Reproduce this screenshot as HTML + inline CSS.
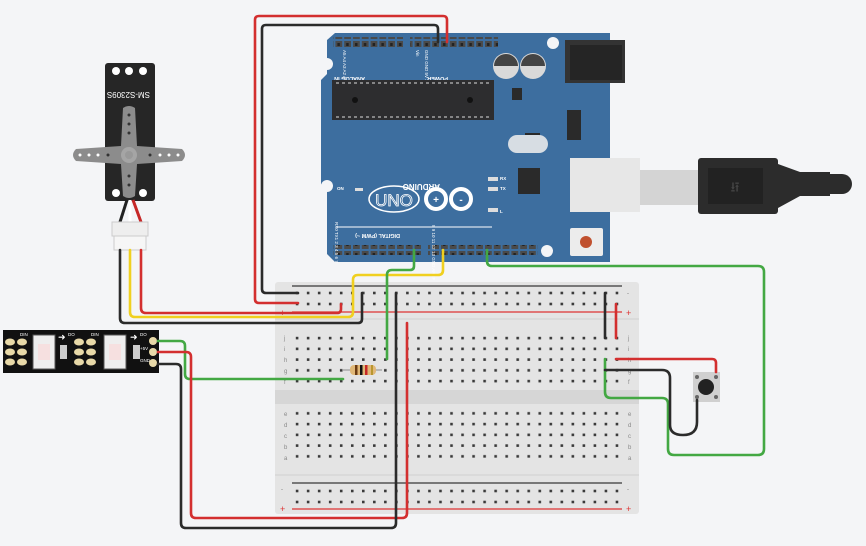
<!DOCTYPE html>
<html><head><meta charset="utf-8"><style>
html,body{margin:0;padding:0;background:#f4f5f7;}
svg{display:block;font-family:"Liberation Sans",sans-serif;}
</style></head><body>
<svg width="866" height="546" viewBox="0 0 866 546" xmlns="http://www.w3.org/2000/svg">
<defs>
<pattern id="holes" x="291.5" y="332.6" width="11.03" height="10.75" patternUnits="userSpaceOnUse"><rect x="4.3" y="4.2" width="2.6" height="2.6" fill="#3a3a3a"/></pattern>
<pattern id="rail" x="291.5" y="287.5" width="11.03" height="11" patternUnits="userSpaceOnUse"><rect x="4.3" y="4.2" width="2.6" height="2.6" fill="#3a3a3a"/></pattern>
<pattern id="hdr" x="0" y="0" width="8.8" height="10" patternUnits="userSpaceOnUse"><rect x="1" y="1" width="6.8" height="8" fill="#4a4a4a"/><rect x="3" y="3" width="2.5" height="3" fill="#222"/></pattern>
</defs>
<rect width="866" height="546" fill="#f4f5f7"/>

<!-- Breadboard -->
<rect x="275" y="282" width="364" height="232" rx="3" fill="#e4e4e4"/>
<rect x="275" y="390" width="364" height="14" fill="#d6d6d6"/>
<rect x="275" y="318" width="364" height="2" fill="#dadada"/>
<rect x="275" y="474" width="364" height="2" fill="#dadada"/>
<line x1="292" y1="286" x2="622" y2="286" stroke="#555" stroke-width="1.5"/>
<line x1="292" y1="312" x2="622" y2="312" stroke="#d33" stroke-width="1.2"/>
<line x1="292" y1="483" x2="622" y2="483" stroke="#555" stroke-width="1.5"/>
<line x1="292" y1="509" x2="622" y2="509" stroke="#d33" stroke-width="1.2"/>
<rect x="292" y="287.5" width="331" height="22" fill="url(#rail)"/>
<rect x="292" y="484.5" width="331" height="22" fill="url(#rail)"/>
<rect x="292" y="332.6" width="331" height="53.7" fill="url(#holes)"/>
<rect x="292" y="408.6" width="331" height="53.7" fill="url(#holes)"/>
<g font-size="6" fill="#777">
<text x="281" y="295">-</text><text x="627" y="295">-</text>
<text x="280" y="316" fill="#d33" font-size="9">+</text><text x="626" y="316" fill="#d33" font-size="9">+</text>
<text x="281" y="491">-</text><text x="627" y="491">-</text>
<text x="280" y="512" fill="#d33" font-size="9">+</text><text x="626" y="512" fill="#d33" font-size="9">+</text>
</g>
<g font-size="6" fill="#888">
<text x="284" y="340">j</text><text x="284" y="351">i</text><text x="284" y="362">h</text><text x="284" y="373">g</text><text x="284" y="384">f</text>
<text x="284" y="416">e</text><text x="284" y="427">d</text><text x="284" y="438">c</text><text x="284" y="449">b</text><text x="284" y="460">a</text>
<text x="628" y="340">j</text><text x="628" y="351">i</text><text x="628" y="362">h</text><text x="628" y="373">g</text><text x="628" y="384">f</text>
<text x="628" y="416">e</text><text x="628" y="427">d</text><text x="628" y="438">c</text><text x="628" y="449">b</text><text x="628" y="460">a</text>
</g>

<!-- Arduino -->
<path d="M335 33 H610 V262 H335 L327 254 V190 L321 184 V80 L327 74 V40 Z" fill="#3d6e9f"/>
<rect x="333" y="37" width="70" height="10" fill="url(#hdr)"/>
<rect x="410" y="37" width="88" height="10" fill="url(#hdr)"/>
<rect x="333" y="245" width="88" height="10" fill="url(#hdr)"/>
<rect x="428" y="245" width="110" height="10" fill="url(#hdr)"/>
<circle cx="327" cy="64" r="6" fill="#f4f5f7"/>
<circle cx="553" cy="43" r="6" fill="#f4f5f7"/>
<circle cx="327" cy="186" r="6" fill="#f4f5f7"/>
<circle cx="547" cy="251" r="6" fill="#f4f5f7"/>
<g font-size="5.5" fill="#fff" font-weight="bold">
<text transform="translate(365,77) rotate(180)">ANALOG IN</text>
<text transform="translate(448,77) rotate(180)">POWER</text>
<text transform="translate(400,234) rotate(180)">DIGITAL (PWM ~)</text>
<text transform="translate(440,184) rotate(180)" font-size="8">ARDUINO</text>
<text x="337" y="190" font-size="4.5">ON</text>
<text x="500" y="180" font-size="4.5">RX</text>
<text x="500" y="190" font-size="4.5">TX</text>
<text x="500" y="213" font-size="4.5">L</text>
</g>
<g font-size="4.5" fill="#fff">
<text transform="translate(343,50) rotate(90)">A5  A4  A3  A2  A1  A0</text>
<text transform="translate(416,50) rotate(90)">Vin</text>
<text transform="translate(425,50) rotate(90)">GND GND 5V 3.3V RESET IOREF</text>
<text transform="translate(335,222) rotate(90)">RX0 TX1 2 3 4 5 6 7</text>
<text transform="translate(432,225) rotate(90)">8  9  10  11  12  13  GND AREF</text>
</g>
<rect x="332" y="80" width="162" height="40" fill="#2d2d2f"/>
<circle cx="355" cy="100" r="3" fill="#111"/><circle cx="470" cy="100" r="3" fill="#111"/>
<line x1="336" y1="83" x2="490" y2="83" stroke="#ddd" stroke-dasharray="3 3"/>
<line x1="336" y1="117" x2="490" y2="117" stroke="#ddd" stroke-dasharray="3 3"/>
<circle cx="506" cy="66" r="13" fill="#d9d9d9"/><path d="M494 66 A12 12 0 0 1 518 66 Z" fill="#444"/>
<circle cx="533" cy="66" r="13" fill="#d9d9d9"/><path d="M521 66 A12 12 0 0 1 545 66 Z" fill="#444"/>
<rect x="565" y="40" width="60" height="43" fill="#333"/><rect x="570" y="45" width="52" height="35" fill="#252525"/>
<rect x="512" y="88" width="10" height="12" fill="#2a2a2a"/>
<rect x="567" y="110" width="14" height="30" fill="#2a2a2a"/>
<rect x="525" y="133" width="15" height="16" fill="#2a2a2a"/>
<rect x="508" y="135" width="40" height="18" rx="9" fill="#d7dde3"/>
<rect x="518" y="168" width="22" height="26" fill="#2a2a2a"/>
<ellipse cx="394" cy="199" rx="25" ry="13" fill="none" stroke="#fff" stroke-width="1.5"/>
<text x="394" y="206" font-size="17" fill="#3d6e9f" stroke="#fff" stroke-width="0.8" text-anchor="middle">UNO</text>
<circle cx="436" cy="199" r="10" fill="none" stroke="#fff" stroke-width="4"/>
<circle cx="461" cy="199" r="10" fill="none" stroke="#fff" stroke-width="4"/>
<text x="436" y="203" font-size="10" fill="#fff" text-anchor="middle" font-weight="bold">+</text>
<text x="461" y="203" font-size="10" fill="#fff" text-anchor="middle" font-weight="bold">-</text>
<line x1="336" y1="227" x2="492" y2="227" stroke="#fff" stroke-width="1"/>
<rect x="355" y="188" width="8" height="3" fill="#ddd"/>
<rect x="488" y="177" width="10" height="4" fill="#ddd"/><rect x="488" y="187" width="10" height="4" fill="#ddd"/><rect x="488" y="208" width="10" height="4" fill="#ddd"/>
<rect x="570" y="228" width="33" height="28" rx="2" fill="#ececec"/>
<circle cx="586" cy="242" r="6" fill="#c0502e"/>
<!-- USB -->
<rect x="570" y="158" width="70" height="54" fill="#e7e7e7"/>
<rect x="640" y="170" width="60" height="35" fill="#d4d4d4"/>
<rect x="698" y="158" width="80" height="56" rx="3" fill="#2c2c2c"/>
<rect x="708" y="168" width="55" height="36" fill="#222"/>
<path d="M778 164 L800 172 H830 V196 H800 L778 208 Z" fill="#2c2c2c"/>
<path d="M828 174 H842 A10 10 0 0 1 842 194 H828 Z" fill="#2c2c2c"/>
<text x="735" y="192" font-size="14" fill="#444" text-anchor="middle">⭿</text>

<!-- Servo -->
<rect x="105" y="63" width="50" height="138" rx="3" fill="#262626"/>
<circle cx="116" cy="71" r="4" fill="#fff"/><circle cx="129" cy="71" r="4" fill="#fff"/><circle cx="143" cy="71" r="4" fill="#fff"/>
<circle cx="116" cy="193" r="4" fill="#fff"/><circle cx="143" cy="193" r="4" fill="#fff"/>
<text transform="translate(150,92) rotate(180)" font-size="8" fill="#fff">SM-S2309S</text>
<path d="M123 108 Q129 104 135 108 L137 146 L182 149 Q188 155 182 161 L137 164 L135 196 Q129 200 123 196 L121 164 L76 161 Q70 155 76 149 L121 146 Z" fill="#8c8c8c"/>
<circle cx="129" cy="155" r="8" fill="#a5a5a5"/><circle cx="129" cy="155" r="4" fill="#999"/>
<g fill="#333"><circle cx="129" cy="115" r="1.5"/><circle cx="129" cy="124" r="1.5"/><circle cx="129" cy="133" r="1.5"/><circle cx="129" cy="176" r="1.5"/><circle cx="129" cy="185" r="1.5"/><circle cx="80" cy="155" r="1.5" fill="#fff"/><circle cx="89" cy="155" r="1.5" fill="#fff"/><circle cx="98" cy="155" r="1.5" fill="#fff"/><circle cx="108" cy="155" r="1.5"/><circle cx="150" cy="155" r="1.5"/><circle cx="160" cy="155" r="1.5" fill="#fff"/><circle cx="169" cy="155" r="1.5" fill="#fff"/><circle cx="178" cy="155" r="1.5" fill="#fff"/></g>
<path d="M127 200 L120 222" stroke="#222" stroke-width="3"/>
<path d="M130 200 L130 222" stroke="#fff" stroke-width="3"/>
<path d="M133 200 L141 222" stroke="#c62828" stroke-width="3"/>
<rect x="112" y="222" width="36" height="14" fill="#eee" stroke="#ccc"/>
<rect x="114" y="236" width="32" height="14" fill="#f6f6f6" stroke="#ccc"/>

<!-- LED strip -->
<rect x="3" y="330" width="156" height="43" fill="#111"/>
<g fill="#e8d9a8">
<ellipse cx="10" cy="342" rx="5" ry="3.5"/><ellipse cx="22" cy="342" rx="5" ry="3.5"/>
<ellipse cx="10" cy="352" rx="5" ry="3.5"/><ellipse cx="22" cy="352" rx="5" ry="3.5"/>
<ellipse cx="10" cy="362" rx="5" ry="3.5"/><ellipse cx="22" cy="362" rx="5" ry="3.5"/>
<ellipse cx="79" cy="342" rx="5" ry="3.5"/><ellipse cx="91" cy="342" rx="5" ry="3.5"/>
<ellipse cx="79" cy="352" rx="5" ry="3.5"/><ellipse cx="91" cy="352" rx="5" ry="3.5"/>
<ellipse cx="79" cy="362" rx="5" ry="3.5"/><ellipse cx="91" cy="362" rx="5" ry="3.5"/>
<circle cx="153" cy="341" r="4"/><circle cx="153" cy="352" r="4"/><circle cx="153" cy="363" r="4"/>
</g>
<rect x="33" y="335" width="22" height="34" fill="#eee" stroke="#555"/><rect x="38" y="344" width="12" height="16" fill="#f6e0e0"/>
<rect x="104" y="335" width="22" height="34" fill="#eee" stroke="#555"/><rect x="109" y="344" width="12" height="16" fill="#f6e0e0"/>
<rect x="60" y="345" width="7" height="14" fill="#ccc"/><rect x="133" y="345" width="7" height="14" fill="#ccc"/>
<g fill="#fff" font-size="4.5"><text x="20" y="336">DIN</text><text x="91" y="336">DIN</text><text x="68" y="336">DO</text><text x="140" y="336">DO</text><text x="140" y="350">+5V</text><text x="140" y="362">GND</text></g>
<text x="58" y="340" fill="#fff" font-size="9">➜</text><text x="130" y="340" fill="#fff" font-size="9">➜</text>

<!-- Button -->
<rect x="693" y="372" width="27" height="30" fill="#d0d0d0"/>
<circle cx="706" cy="387" r="8" fill="#222"/>
<g fill="#666"><circle cx="697" cy="377" r="2"/><circle cx="716" cy="377" r="2"/><circle cx="697" cy="397" r="2"/><circle cx="716" cy="397" r="2"/></g>

<!-- Wires -->
<g fill="none" stroke-width="2.6" stroke-linejoin="round" stroke-linecap="round">
<path d="M447 42 V20 Q447 16 443 16 H259 Q255 16 255 20 V299 Q255 303 259 303 H298" stroke="#d32f2f"/>
<path d="M438 42 V29 Q438 25 434 25 H266 Q262 25 262 29 V289 Q262 293 266 293 H298" stroke="#2b2b2b"/>
<path d="M120 250 V318 Q120 323 125 323 H358 Q362 323 362 319 V293" stroke="#2b2b2b"/>
<path d="M130 250 V312 Q130 317 135 317 H348 Q353 317 353 312 V280 Q353 275 358 275 H438 Q443 275 443 270 V250" stroke="#f0d020"/>
<path d="M141 250 V308 Q141 313 146 313 H337 Q341 313 341 309 V304" stroke="#d32f2f"/>
<path d="M414 250 V266 Q414 270 410 270 H392 Q387 270 387 275 V359" stroke="#43a843"/>
<path d="M487 250 V261 Q487 266 492 266 H758 Q764 266 764 272 V449 Q764 455 758 455 H674 Q668 455 668 449 V404 Q668 398 662 398 H611 Q605 398 605 392 V359" stroke="#43a843"/>
<path d="M605 293 V338" stroke="#2b2b2b"/>
<path d="M616 304 V338" stroke="#d32f2f"/>
<path d="M616 359 H712 Q716 359 716 363 V372" stroke="#d32f2f"/>
<path d="M605 370 H662 Q670 370 670 378 V425 Q670 435 683 435 Q697 435 697 422 V400" stroke="#2b2b2b"/>
<path d="M158 341 H180 Q185 341 185 346 V374 Q185 379 190 379 H343" stroke="#43a843"/>
<path d="M158 352 H186 Q191 352 191 357 V513 Q191 518 196 518 H402 Q407 518 407 513 V323" stroke="#d32f2f"/>
<path d="M158 364 H176 Q181 364 181 369 V523 Q181 528 186 528 H391 Q396 528 396 523 V293" stroke="#2b2b2b"/>
</g>
<!-- resistor -->
<line x1="343" y1="370" x2="382" y2="370" stroke="#aaa" stroke-width="1.5"/>
<rect x="350" y="365" width="26" height="10" rx="4" fill="#e0b878"/>
<rect x="355" y="365" width="2.5" height="10" fill="#6b3b12"/><rect x="360" y="365" width="2.5" height="10" fill="#111"/><rect x="365" y="365" width="2.5" height="10" fill="#c62828"/><rect x="371" y="365" width="2" height="10" fill="#b8962e"/>
</svg>
</body></html>
